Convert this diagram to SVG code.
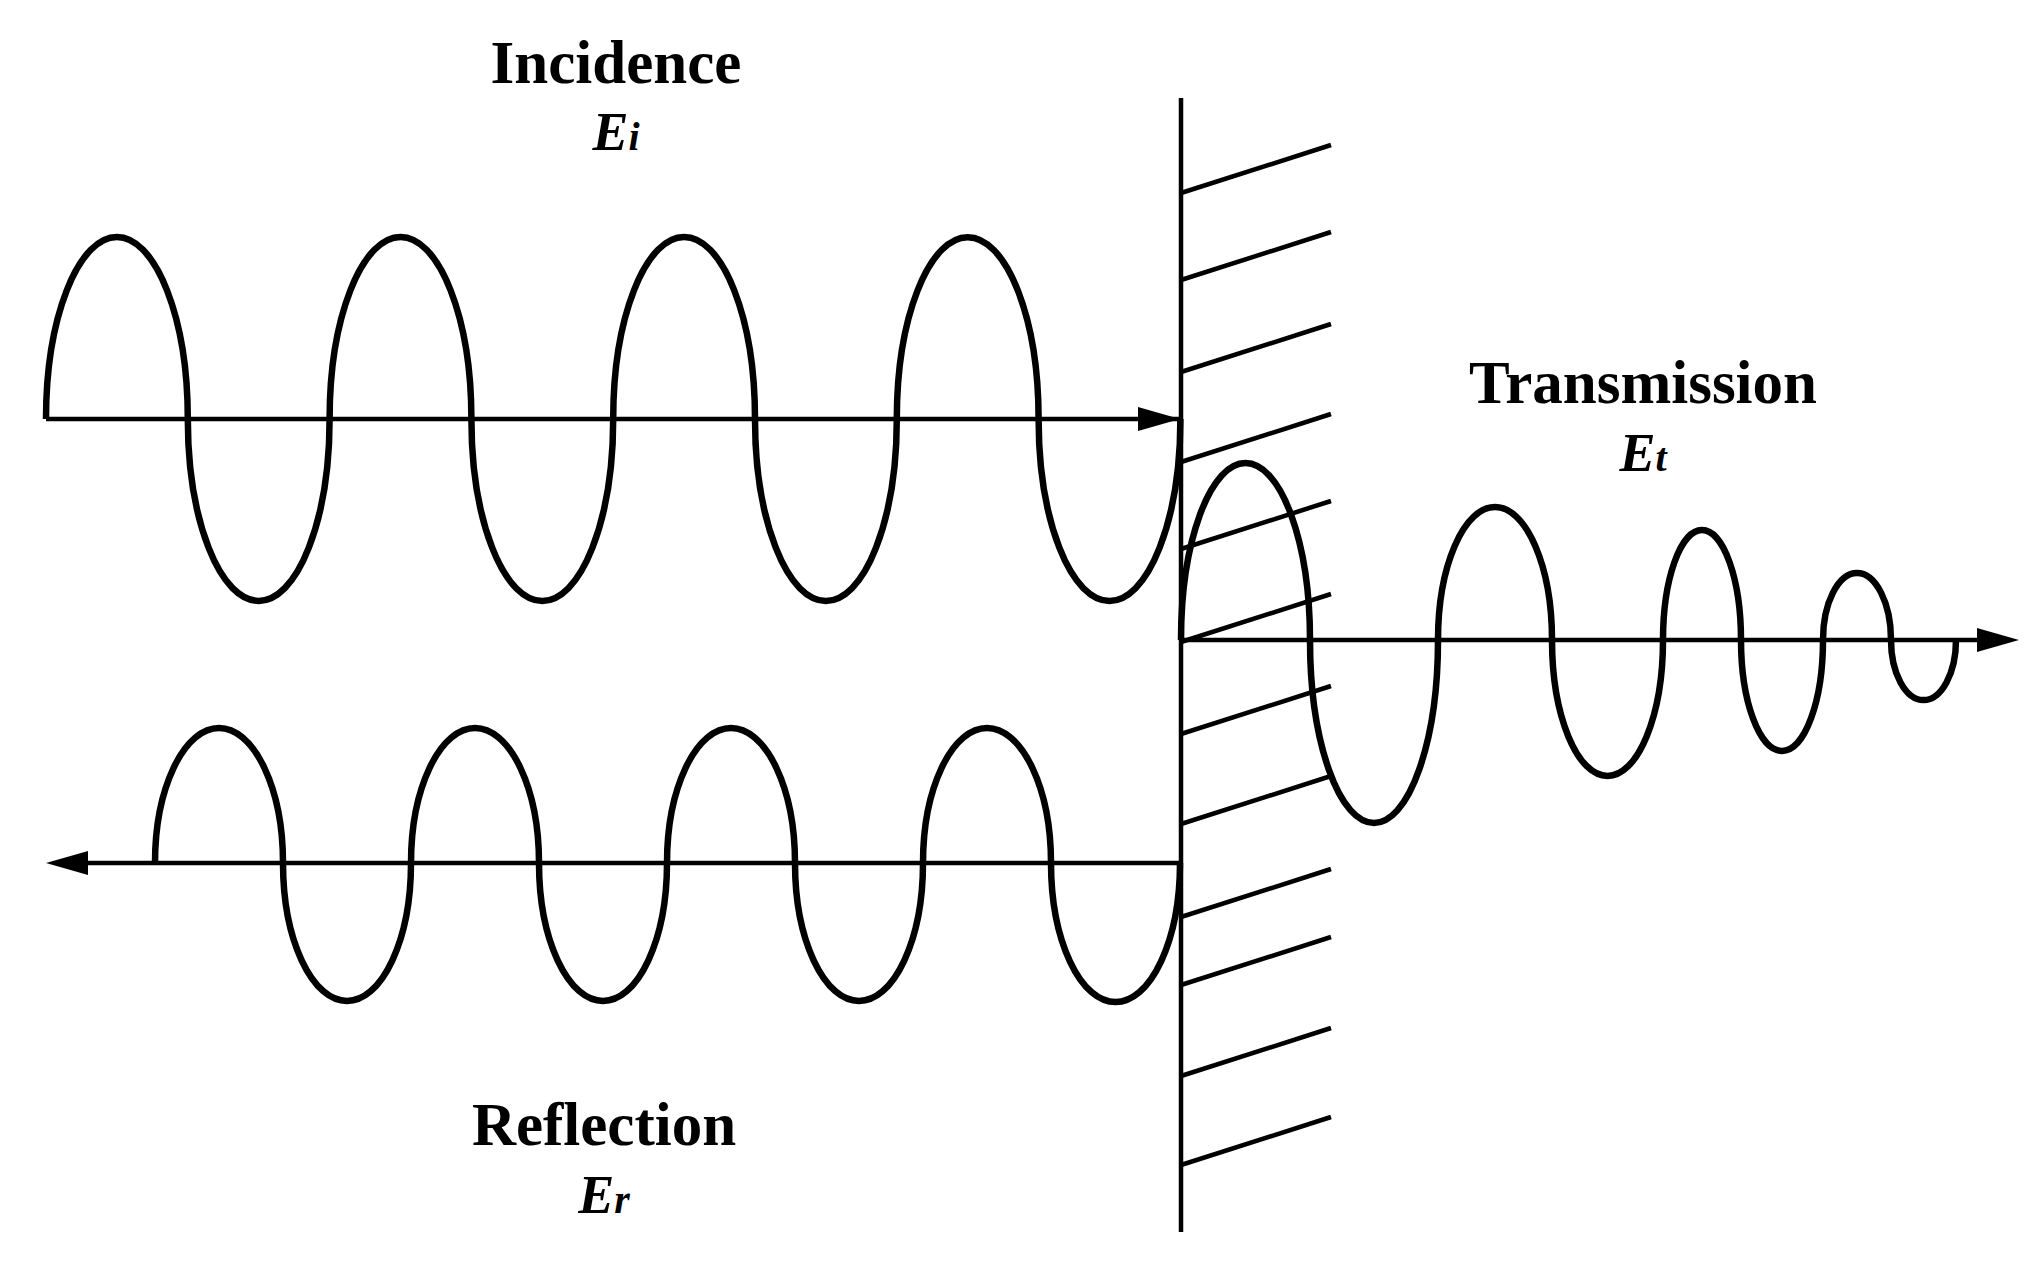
<svg xmlns="http://www.w3.org/2000/svg" width="2025" height="1262" viewBox="0 0 2025 1262">
<style>
.w{fill:none;stroke:#000;stroke-width:6.5}
.a{fill:none;stroke:#000;stroke-width:4.5}
.t{font-family:"Liberation Serif",serif;font-weight:bold;font-size:61px;text-anchor:middle}
.e{font-family:"Liberation Serif",serif;font-weight:bold;font-style:italic;font-size:54px;text-anchor:middle}
</style>
<defs><marker id="ar" markerWidth="10" markerHeight="8" refX="10" refY="4" orient="auto" markerUnits="userSpaceOnUse" viewBox="0 0 10 8"><path d="M0,0 L10,4 L0,8z"/></marker></defs>
<rect width="2025" height="1262" fill="#fff"/>
<g id="wall">
<line class="a" x1="1181" y1="98" x2="1181" y2="1232"/>
<path class="a" d="M1181,193 l150,-48 M1181,280 l150,-48 M1181,372 l150,-48 M1181,462 l150,-48 M1181,549 l150,-48 M1181,642 l150,-48 M1181,734 l150,-48 M1181,824 l150,-48 M1181,917 l150,-48 M1181,985 l150,-48 M1181,1076 l150,-48 M1181,1165 l150,-48"/>
</g>
<g id="connectors">
<line class="a" x1="46" y1="419" x2="1180" y2="419" marker-end="url(#ar)" style="marker-end:none"/>
<path d="M1180,419 l-42,-12 v24z"/>
<line class="a" x1="1180" y1="863" x2="80" y2="863"/>
<path d="M46,863 l42,-12 v24z"/>
<line class="a" x1="1181" y1="640" x2="1985" y2="640"/>
<path d="M2019,640 l-42,-12 v24z"/>
</g>
<g id="incidence">
<path class="w" d="M46,419 A70.9,182 0 0 1 187.8,419 A70.9,182 0 0 0 329.6,419 A70.9,182 0 0 1 471.4,419 A70.9,182 0 0 0 613.2,419 A70.9,182 0 0 1 755,419 A70.9,182 0 0 0 896.8,419 A70.9,182 0 0 1 1038.6,419 A70.9,182 0 0 0 1180.4,419"/>
<text class="t" x="616" y="83">Incidence</text>
<text class="e" x="616" y="150">E<tspan font-size="40">i</tspan></text>
</g>
<g id="reflection">
<path class="w" d="M155,863 A64,135 0 0 1 283,863 A64,138 0 0 0 411,863 A64,135 0 0 1 539,863 A64,138 0 0 0 667,863 A64,135 0 0 1 795,863 A64,138 0 0 0 923,863 A64,135 0 0 1 1051,863 A64,138 0 0 0 1180,863"/>
<text class="t" x="604" y="1145">Reflection</text>
<text class="e" x="604" y="1213">E<tspan font-size="40">r</tspan></text>
</g>
<g id="transmission">
<path class="w" d="M1181,640 A64.5,177 0 0 1 1310,640 A64,183 0 0 0 1438,640 A57,133 0 0 1 1552,640 A55.5,136 0 0 0 1663,640 A39,110 0 0 1 1741,640 A41,111 0 0 0 1823,640 A34,67 0 0 1 1891,640 A32.5,60 0 0 0 1956,640"/>
<text class="t" x="1643" y="403">Transmission</text>
<text class="e" x="1643" y="471">E<tspan font-size="40">t</tspan></text>
</g>
</svg>
